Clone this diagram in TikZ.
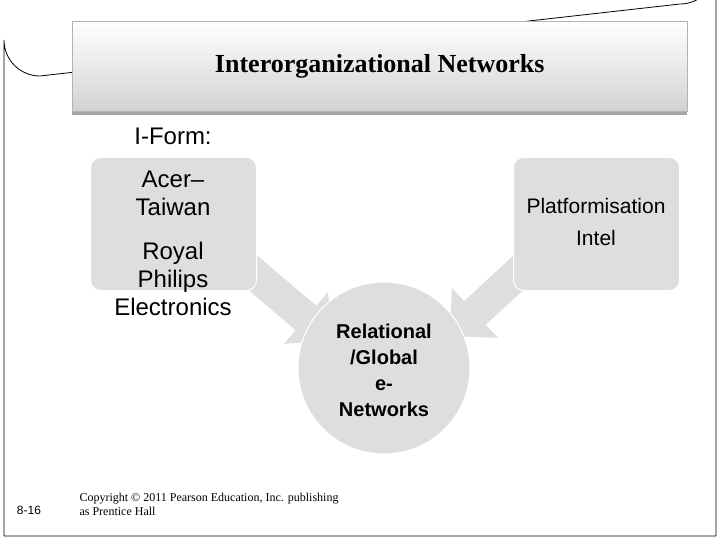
\documentclass[tikz,border=0pt]{standalone}
\usepackage{fontspec}
\setmainfont{Liberation Serif}
\newfontfamily\arial{Liberation Sans}
\usetikzlibrary{arrows.meta,shadings}
\definecolor{boxg}{HTML}{DEDEDE}
\tikzset{
  x=1pt,y=-1pt,
  gbox/.style={fill=boxg,draw=white,line width=1pt,rounded corners=10pt},
  txt/.style={font=\arial\fontsize{24}{28}\selectfont,align=center,text=black},
  barrow/.style={draw=none,fill=boxg,line width=0pt},
}
\begin{document}
\begin{tikzpicture}
\useasboundingbox (0,0) rectangle (720,540);
\fill[white] (0,0) rectangle (720,540);
% slide frame
\draw[line width=0.8pt,black] (4,536) -- (4,40) arc[start angle=180,end angle=90,radius=36] -- (680,4) arc[start angle=90,end angle=0,radius=36] -- (716,536) -- cycle;
% title
\fill[gray!70] (72,111) rectangle (687,115);
\node[name=title,minimum width=615pt,minimum height=90pt,anchor=north west,top color=white,bottom color=gray!35,draw=gray!60,line width=0.5pt,inner sep=0pt] at (72,21) {};
\node[font=\bfseries\fontsize{26}{30}\selectfont] (tt) at (title.center) {Interorganizational Networks};
% arrows
\coordinate (la) at (240,262);
\coordinate (lb) at (332,340);
\coordinate (ra) at (530,262);
\coordinate (rb) at (450,336);
\draw[boxg,line width=32pt,-{Triangle[width=66pt,length=34pt]}] (la) -- (lb);
\draw[boxg,line width=32pt,-{Triangle[width=66pt,length=34pt]}] (ra) -- (rb);
% boxes
\node[gbox,minimum width=166pt,minimum height=133pt,anchor=north west] (L) at (90,157) {};
\node[gbox,minimum width=166pt,minimum height=133pt,anchor=north west] (R) at (513,157) {};
\node[circle,fill=boxg,draw=white,line width=1pt,minimum size=172pt] (C) at (384,368) {};
% texts
\node[txt] (iform) at (173,136) {I-Form:};
\node[txt] (acer) at (173,193) {Acer–\\Taiwan};
\node[txt] (royal) at (173,279) {Royal\\Philips\\Electronics};
\node[font=\arial\fontsize{21}{26}\selectfont,align=center] (plat) at (596,222) {Platformisation\\[6pt]Intel};
\node[font=\arial\bfseries\fontsize{20}{26}\selectfont,align=center] (rel) at (384,370) {Relational\\/Global\\e-\\Networks};
% footer
\node[font=\arial\fontsize{12}{14}\selectfont] (num) at (29,510) {8-16};
\node[font=\fontsize{12}{14}\selectfont,align=left,anchor=west] (copy) at (76,504) {Copyright © 2011 Pearson Education, Inc. publishing\\as Prentice Hall};
\end{tikzpicture}
\end{document}
